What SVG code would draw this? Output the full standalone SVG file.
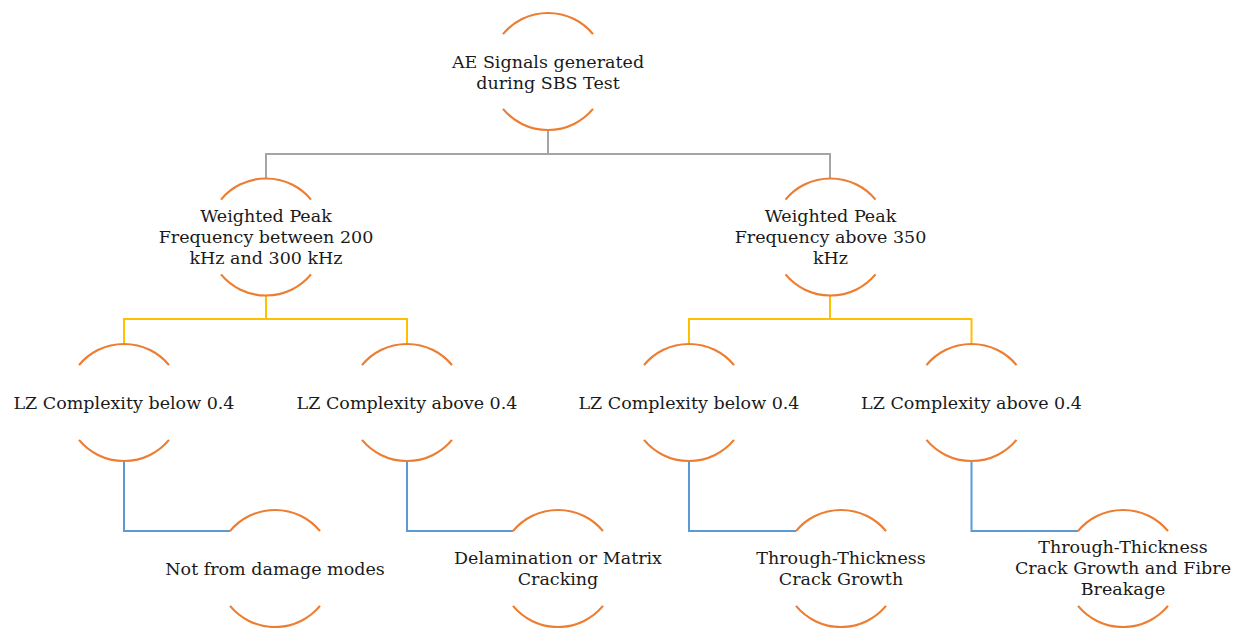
<svg xmlns="http://www.w3.org/2000/svg" xmlns:xlink="http://www.w3.org/1999/xlink" width="1238" height="628" viewBox="0 0 1238 628">
<style>
.ring{fill:none;stroke:#ED7D31;stroke-width:2.2}
.t{font-family:"DejaVu Serif","Liberation Serif",serif;font-size:17.5px;fill:#1a1a1a;text-anchor:middle}
.c{fill:none;stroke-width:2}
.g{stroke:#A5A5A5}
.y{stroke:#FFC000}
.b{stroke:#5B9BD5}
</style>
<defs>
<path id="ring" d="M-45,-37.4 A58.5,58.5 0 0 1 45,-37.4 M-45,37.4 A58.5,58.5 0 0 0 45,37.4"/>
</defs>
<rect width="1238" height="628" fill="#ffffff"/>
<g id="connectors">
<path class="c g" d="M548,130 V154 M266,178 V154 H830 V178"/>
<path class="c y" d="M266,296 V319 M124,343 V319 H407 V343"/>
<path class="c y" d="M830,296 V319 M689,343 V319 H971.5 V343"/>
<path class="c b" d="M124,461 V531 H230"/>
<path class="c b" d="M407,461 V531 H513"/>
<path class="c b" d="M689,461 V531 H796"/>
<path class="c b" d="M971.5,461 V531 H1078"/>
</g>
<g id="n0"><use xlink:href="#ring" class="ring" transform="translate(548,71.5)"/>
<text class="t" x="548" y="67.5">AE Signals generated</text><text class="t" x="548" y="88.5">during SBS Test</text></g>
<g id="n1"><use xlink:href="#ring" class="ring" transform="translate(266,237)"/>
<text class="t" x="266" y="222">Weighted Peak</text><text class="t" x="266" y="243">Frequency between 200</text><text class="t" x="266" y="264">kHz and 300 kHz</text></g>
<g id="n2"><use xlink:href="#ring" class="ring" transform="translate(830.5,237)"/>
<text class="t" x="830.5" y="222">Weighted Peak</text><text class="t" x="830.5" y="243">Frequency above 350</text><text class="t" x="830.5" y="264">kHz</text></g>
<g id="n3"><use xlink:href="#ring" class="ring" transform="translate(124,402.5)"/>
<text class="t" x="124" y="408.5">LZ Complexity below 0.4</text></g>
<g id="n4"><use xlink:href="#ring" class="ring" transform="translate(407,402.5)"/>
<text class="t" x="407" y="408.5">LZ Complexity above 0.4</text></g>
<g id="n5"><use xlink:href="#ring" class="ring" transform="translate(689,402.5)"/>
<text class="t" x="689" y="408.5">LZ Complexity below 0.4</text></g>
<g id="n6"><use xlink:href="#ring" class="ring" transform="translate(971.5,402.5)"/>
<text class="t" x="971.5" y="408.5">LZ Complexity above 0.4</text></g>
<g id="n7"><use xlink:href="#ring" class="ring" transform="translate(275,568.5)"/>
<text class="t" x="275" y="574.5">Not from damage modes</text></g>
<g id="n8"><use xlink:href="#ring" class="ring" transform="translate(558,568.5)"/>
<text class="t" x="558" y="563.5">Delamination or Matrix</text><text class="t" x="558" y="584.5">Cracking</text></g>
<g id="n9"><use xlink:href="#ring" class="ring" transform="translate(841,568.5)"/>
<text class="t" x="841" y="563.5">Through-Thickness</text><text class="t" x="841" y="584.5">Crack Growth</text></g>
<g id="n10"><use xlink:href="#ring" class="ring" transform="translate(1123,568.5)"/>
<text class="t" x="1123" y="553">Through-Thickness</text><text class="t" x="1123" y="574">Crack Growth and Fibre</text><text class="t" x="1123" y="595">Breakage</text></g>
</svg>
